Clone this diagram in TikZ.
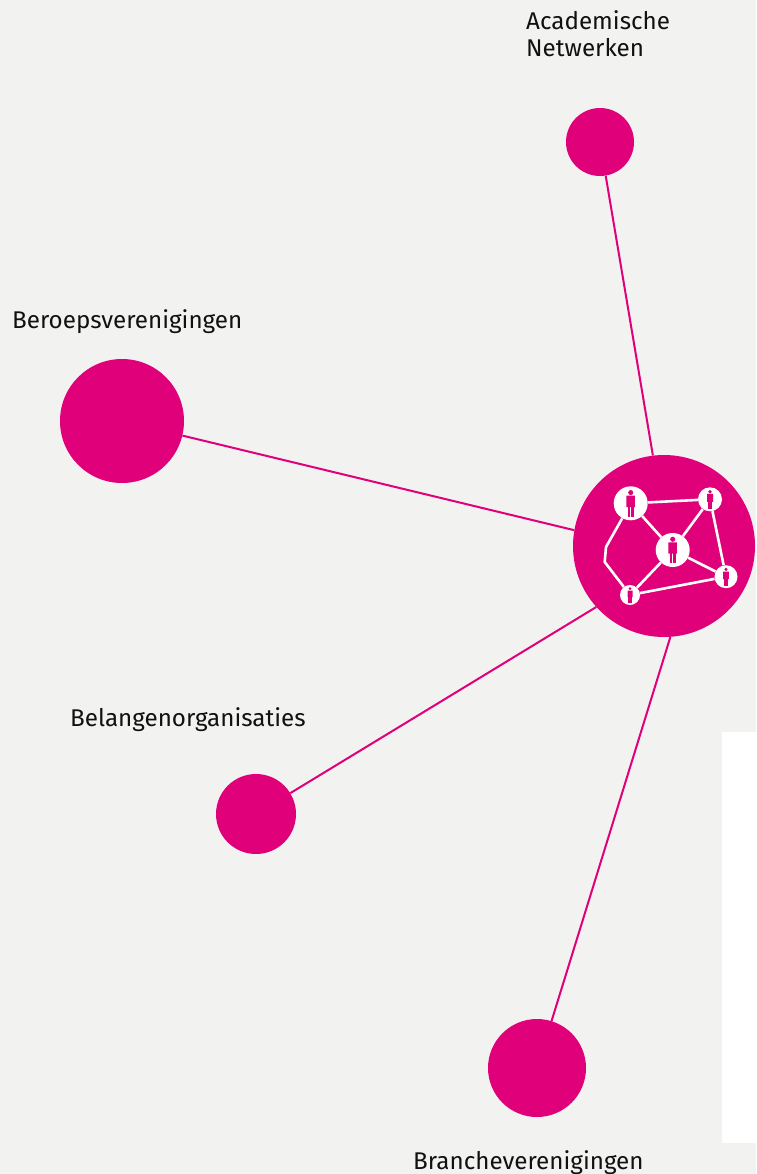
\documentclass[tikz,border=0pt]{standalone}
\usepackage{fontspec}
\setmainfont{Fira Sans}
\definecolor{bg}{HTML}{F2F2F0}
\definecolor{pink}{HTML}{E0007A}
\definecolor{ink}{HTML}{111111}
\tikzset{
  hub/.style={circle,fill=pink,inner sep=0pt,minimum size=#1},
  link/.style={draw=pink,line width=2pt},
  lbl/.style={anchor=base west,inner sep=0pt,text=ink,font=\fontsize{24.2}{27.7}\selectfont,align=left},
  mini/.style={circle,fill=white,inner sep=0pt,minimum size=#1},
  wlink/.style={draw=white,line width=2.6pt},
  person/.pic={
    \fill[pink] (0,-0.63) circle (0.15);
    \fill[pink,rounded corners=0.05] (-0.25,-0.45) rectangle (0.25,0.22);
    \fill[pink] (-0.17,0.15) rectangle (-0.03,0.78);
    \fill[pink] (0.03,0.15) rectangle (0.17,0.78);
  }
}
\begin{document}
\begin{tikzpicture}[x=1pt,y=-1pt]
\fill[bg] (0,0) rectangle (756,1174);
\useasboundingbox (0,0) rectangle (756,1174);
\fill[white] (722,732) rectangle (756,1143);
% outer nodes
\node[hub=68pt] (acad) at (600,142) {};
\node[hub=124pt] (ber) at (122,421) {};
\node[hub=80pt] (bel) at (256,814) {};
\node[hub=98pt] (bra) at (537,1068) {};
\node[hub=182pt] (c) at (664,546) {};
\draw[link] (c.97.5) -- (acad);
\draw[link] (c.170) -- (ber);
\draw[link] (c.-138) -- (bel);
\draw[link] (c.-86) -- (bra);
% labels
\node[lbl] (tacad) at (526,57) {Academische\\Netwerken};
\node[lbl] (tber) at (12,328) {Beroepsverenigingen};
\node[lbl] (tbel) at (70,726) {Belangenorganisaties};
\node[lbl] (tbra) at (413,1169) {Brancheverenigingen};
% icon network
\coordinate (k1) at (606,547);
\coordinate (k2) at (604.7,562);
\node[mini=34pt] (pa) at (630.7,503.3) {};
\node[mini=24pt] (pb) at (710,499.3) {};
\node[mini=34pt] (pc) at (672.7,550) {};
\node[mini=23pt] (pd) at (726,576.7) {};
\node[mini=20pt] (pe) at (630,595) {};
\draw[wlink] (pa) -- (pb);
\draw[wlink] (pa) -- (pc);
\draw[wlink] (pb) -- (pc);
\draw[wlink] (pb) -- (pd);
\draw[wlink] (pc) -- (pd);
\draw[wlink] (pc) -- (pe);
\draw[wlink] (pe) -- (pd);
\draw[wlink,line join=round] (pa) -- (k1) -- (k2) -- (pe);
\pic[scale=17] at (pa) {person};
\pic[scale=12] at (pb) {person};
\pic[scale=17] at (pc) {person};
\pic[scale=11.5] at (pd) {person};
\pic[scale=10] at (pe) {person};
\end{tikzpicture}
\end{document}
